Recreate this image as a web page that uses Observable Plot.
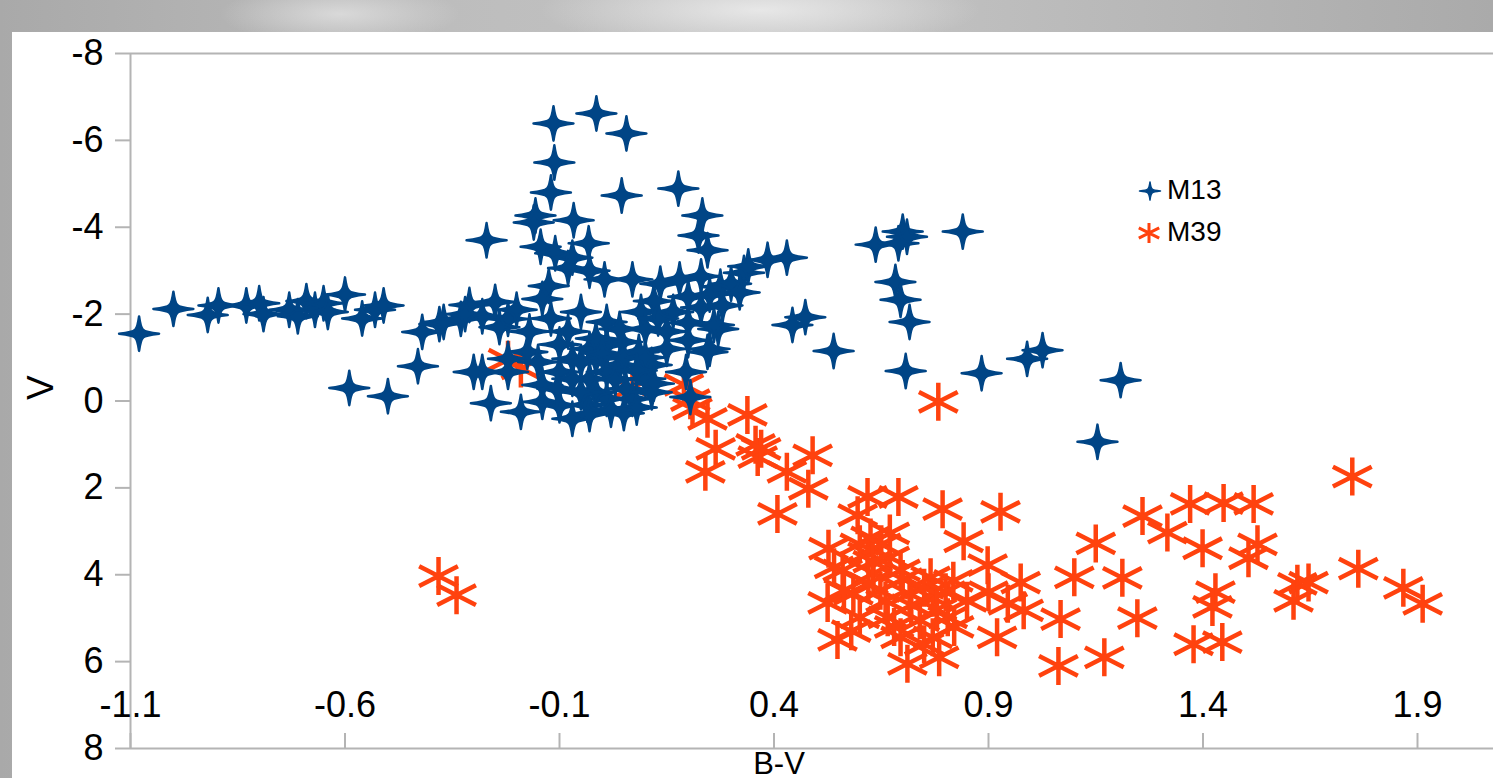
<!DOCTYPE html>
<html>
<head>
<meta charset="utf-8">
<script src="https://cdn.jsdelivr.net/npm/d3@7"></script>
<script src="https://cdn.jsdelivr.net/npm/@observablehq/plot@0.6"></script>
<style>
  html, body { margin: 0; padding: 0; }
  body {
    width: 1493px; height: 778px; overflow: hidden; position: relative;
    font-family: "Liberation Sans", Arial, sans-serif;
    background:
      radial-gradient(ellipse 220px 40px at 760px 10px, rgba(235,235,235,0.9), rgba(235,235,235,0) 100%),
      radial-gradient(ellipse 120px 30px at 340px 14px, rgba(225,225,225,0.8), rgba(225,225,225,0) 100%),
      linear-gradient(90deg, #a9a9a9 0%, #bdbdbd 30%, #c4c4c4 55%, #b6b6b6 80%, #aaaaaa 100%);
  }
  #panel { position: absolute; left: 12px; top: 32px; width: 1481px; height: 746px; background: #fff; }
  #chart { position: absolute; left: 0; top: 0; }
  #chart svg { background: transparent !important; overflow: visible; }
  #legend { position: absolute; left: 0; top: 0; width: 1493px; height: 778px; pointer-events: none; }
  .lg { position: absolute; font-size: 28px; color: #000; line-height: 1; white-space: nowrap; }
</style>
</head>
<body>
<div id="panel"></div>
<div id="chart"></div>
<div id="legend"></div>
<script>
// ---- data (B-V, V) ----
const seriesNames = ["M13", "M39"];
const seriesColors = ["#004586", "#ff420e"];

const m13 = [
  [-1.08,-1.55],[-1.00,-2.12],[-0.92,-1.98],[-0.895,-2.2],[-0.83,-2.2],[-0.80,-2.25],[-0.79,-2.0],
  [-0.73,-2.1],[-0.71,-1.95],[-0.69,-2.3],[-0.67,-2.1],[-0.65,-2.25],[-0.64,-2.05],[-0.60,-2.45],
  [-0.56,-1.9],[-0.53,-2.1],[-0.51,-2.2],[-0.59,-0.3],[-0.50,-0.11],[-0.43,-0.8],[-0.42,-1.59],
  [-0.38,-1.77],[-0.37,-1.82],[-0.33,-1.89],[-0.31,-2.21],[-0.25,-2.28],[-0.22,-1.89],[-0.27,-3.7],
  [-0.28,-0.67],[-0.30,-0.67],[-0.26,0.05],[-0.22,-0.67],[-0.22,-0.97],[-0.175,-1.13],[-0.19,0.25],
  [-0.14,0.02],[-0.14,-0.37],[-0.10,-0.67],[-0.07,-0.97],[-0.03,-1.2],[0.01,-1.29],[0.046,-1.36],
  [0.085,-1.13],[0.115,-0.83],[0.10,-0.51],[0.055,-0.28],[0.01,-0.05],[-0.035,0.09],[-0.07,0.41],
  [-0.10,0.1],[-0.03,-0.51],[0.01,-0.67],[-0.07,-0.51],[-0.105,-0.28],[0.04,-0.83],[-0.015,-0.97],
  [0.07,-0.05],[-0.015,-0.2],[0.195,-0.67],[0.205,-0.09],[0.25,-1.2],[0.27,-1.66],[0.26,-1.75],
  [0.245,-1.13],
  [-0.114,-6.39],[-0.014,-6.62],[0.056,-6.16],[-0.112,-5.49],[-0.12,-4.8],[0.045,-4.73],[0.177,-4.89],
  [-0.156,-4.27],[-0.16,-4.11],[-0.067,-4.16],[0.233,-4.27],[0.224,-3.81],[0.245,-3.47],[-0.144,-3.55],
  [-0.11,-3.4],[-0.032,-3.63],[-0.07,-3.3],[-0.08,-3.06],[-0.03,-3.0],[-0.125,-2.65],[-0.14,-2.35],
  [0.005,-2.8],[0.07,-2.8],[0.135,-2.7],[0.18,-2.8],[0.23,-2.87],[0.275,-2.63],[0.30,-2.7],
  [0.33,-2.95],[0.34,-3.1],[0.385,-3.25],[0.43,-3.3],[-0.05,-2.05],[0.01,-1.82],[0.09,-2.05],
  [0.165,-2.05],[0.23,-2.15],[-0.12,-1.9],[-0.17,-1.6],[-0.08,-1.6],[-0.015,-1.44],[0.04,-1.66],
  [0.10,-1.66],[0.15,-1.6],
  [0.443,-1.75],[0.473,-1.93],[0.539,-1.15],[0.637,-3.6],[0.70,-3.9],[0.71,-3.78],[0.69,-3.63],
  [0.84,-3.9],[0.683,-2.74],[0.695,-2.33],[0.716,-1.82],[0.707,-0.69],[0.884,-0.64],[0.99,-0.97],
  [1.026,-1.17],[1.208,-0.48],[1.154,0.94],
  [-0.03,0.3],[0.05,0.28],[0.08,0.15],[0.115,-0.2],
  [-0.05,-0.9],[0.0,-1.1],[0.05,-1.0],[0.1,-1.0],[0.15,-1.2],[0.2,-1.4],[0.2,-1.8],[0.13,-1.9],
  [-0.1,-1.3],[-0.15,-0.9],[0.03,-0.5],[0.08,-0.7],[-0.05,-0.2],[0.02,0.2],[0.12,-0.4],
  [-0.28,-1.95],[-0.2,-2.1],[-0.24,-1.7],[-0.32,-2.0],
  [0.32,-2.5],[0.25,-2.45],[0.2,-2.4],[0.12,-2.3],[0.28,-2.2]
];

const m39 = [
  [-0.382,4.03],[-0.34,4.47],[0.783,0.02],[1.748,1.74],[1.259,2.65],[1.317,3.03],[1.37,2.37],
  [1.448,2.35],[1.518,2.37],[1.399,3.39],[1.527,3.3],[1.506,3.62],[1.212,4.07],[1.247,5.0],
  [1.429,4.4],[1.422,4.74],[1.378,5.6],[1.445,5.55],[1.62,4.21],[1.646,4.18],[1.611,4.6],
  [1.762,3.86],[1.867,4.3],[1.912,4.67],[1.15,3.28],[1.17,5.9],[1.068,5.02],[1.063,6.1],
  [1.10,4.06],[0.975,4.18],[0.982,4.82],
  [0.362,1.29],[0.43,1.63],[0.49,1.25],[0.48,2.02],[0.408,2.6],
  [0.618,2.21],[0.69,2.21],[0.793,2.49],[0.928,2.55],[0.595,2.63],[0.842,3.23],[0.527,3.4],
  [0.625,3.14],[0.67,3.05],[0.618,3.51],[0.67,3.6],[0.632,3.97],[0.695,3.9],[0.898,3.78],
  [0.765,4.06],[0.818,4.14],[0.525,4.65],[0.585,4.44],[0.648,4.37],[0.716,4.44],[0.77,4.53],
  [0.85,4.6],[0.945,4.67],[0.60,4.98],[0.665,4.98],[0.74,5.05],[0.805,4.98],[0.548,5.5],
  [0.695,5.44],[0.77,5.44],[0.785,5.9],[0.711,6.05],[0.92,5.44],
  [0.6,3.3],[0.65,3.3],[0.63,3.7],[0.7,4.1],[0.75,4.3],[0.8,4.4],[0.78,4.8],[0.72,4.7],
  [0.66,4.6],[0.62,4.2],[0.56,3.9],[0.82,5.2],[0.75,5.6],[0.68,5.2],[0.58,5.3],[0.9,4.4],
  [0.54,3.83],[0.563,4.36],
  [0.19,-0.37],[0.205,-0.02],[0.21,0.18],[0.245,0.41],[0.338,0.32],[0.264,1.1],[0.24,1.63],
  [0.357,1.01],[0.37,1.1],
  [-0.22,-0.95],[-0.19,-0.75],[0.07,-0.3]
];

const yTicks = [-8, -6, -4, -2, 0, 2, 4, 6, 8];
const xTicks = [-1.1, -0.6, -0.1, 0.4, 0.9, 1.4, 1.9];
const xTickLabels = ["-1.1", "-0.6", "-0.1", "0.4", "0.9", "1.4", "1.9"];
const xLabel = "B-V";
const yLabel = "V";

// ---- symbols ----
const starSymbol = {
  draw(ctx, size) {
    const r = Math.sqrt(size / Math.PI);
    const rx = r, ry = r * 0.86, k = r * 0.2, c = r * 0.08;
    ctx.moveTo(0, -ry);
    ctx.quadraticCurveTo(c, -k - c, k, -k);
    ctx.quadraticCurveTo(k + c, -c, rx, 0);
    ctx.quadraticCurveTo(k + c, c, k, k);
    ctx.quadraticCurveTo(c, k + c, 0, ry);
    ctx.quadraticCurveTo(-c, k + c, -k, k);
    ctx.quadraticCurveTo(-k - c, c, -rx, 0);
    ctx.quadraticCurveTo(-k - c, -c, -k, -k);
    ctx.quadraticCurveTo(-c, -k - c, 0, -ry);
    ctx.closePath();
  }
};
const asteriskSymbol = {
  draw(ctx, size) {
    const r = Math.sqrt(size / Math.PI);
    const dx = r * 1.02, dy = r * 0.52;
    ctx.moveTo(0, -r); ctx.lineTo(0, r);
    ctx.moveTo(-dx, -dy); ctx.lineTo(dx, dy);
    ctx.moveTo(-dx, dy); ctx.lineTo(dx, -dy);
  }
};

const axisGrey = "#b4b4b4";
const fontSize = 36;

const plot = Plot.plot({
  width: 1493,
  height: 778,
  marginLeft: 130,
  marginRight: 0,
  marginTop: 53,
  marginBottom: 30,
  style: { fontFamily: "Liberation Sans, Arial, sans-serif", background: "transparent", color: "#000" },
  x: { domain: [-1.1, -1.1 + 1363 / 429], axis: null },
  y: { domain: [-8, 8], reverse: true, axis: null },
  marks: [
    Plot.ruleY([-8, 8], { stroke: axisGrey, strokeWidth: 2 }),
    Plot.ruleX([-1.1], { stroke: axisGrey, strokeWidth: 2 }),
    Plot.axisY(yTicks, {
      tickSize: 15, tickPadding: 12, fontSize, stroke: axisGrey, strokeWidth: 2, fill: "#000",
      tickFormat: d => String(d), label: null
    }),
    Plot.ruleX(xTicks, { x: d => d, insetTop: 680, stroke: axisGrey, strokeWidth: 2 }),
    Plot.text(xTicks, {
      x: d => d, frameAnchor: "bottom", dy: -43, lineAnchor: "middle",
      text: (d, i) => xTickLabels[i], fontSize, fill: "#000"
    }),
    Plot.text([xLabel], { frameAnchor: "bottom", dx: -33, dy: 25, lineAnchor: "bottom", fontSize: 31, fill: "#000" }),
    Plot.text([yLabel], { frameAnchor: "left", dx: -89, dy: -1, rotate: -90, fontSize: 37, fill: "#000" }),
    Plot.dot(m39, {
      x: d => d[0], y: d => d[1], symbol: asteriskSymbol, r: 19,
      fill: "none", stroke: seriesColors[1], strokeWidth: 4.5
    }),
    Plot.dot(m13, {
      x: d => d[0], y: d => d[1], symbol: starSymbol, r: 20,
      fill: seriesColors[0], stroke: seriesColors[0], strokeWidth: 2.5, strokeLinejoin: "round"
    })
  ]
});
document.getElementById("chart").appendChild(plot);

// ---- legend ----
const legend = document.getElementById("legend");
const legendItems = [
  { name: seriesNames[0], color: seriesColors[0], symbol: starSymbol, r: 10.5, cx: 1150, cy: 191, filled: true },
  { name: seriesNames[1], color: seriesColors[1], symbol: asteriskSymbol, r: 10, cx: 1149, cy: 233, filled: false }
];
legendItems.forEach(it => {
  const svg = d3.select(legend).append("svg")
    .attr("width", 40).attr("height", 40)
    .style("position", "absolute")
    .style("left", (it.cx - 20) + "px").style("top", (it.cy - 20) + "px");
  svg.append("path")
    .attr("transform", "translate(20,20)")
    .attr("d", d3.symbol(it.symbol, Math.PI * it.r * it.r)())
    .attr("fill", it.filled ? it.color : "none")
    .attr("stroke", it.color)
    .attr("stroke-width", it.filled ? 1.5 : 3)
    .attr("stroke-linejoin", "round");
  const t = document.createElement("div");
  t.className = "lg";
  t.textContent = it.name;
  t.style.left = "1167px";
  t.style.top = (it.cy - 15) + "px";
  legend.appendChild(t);
});
</script>
</body>
</html>
